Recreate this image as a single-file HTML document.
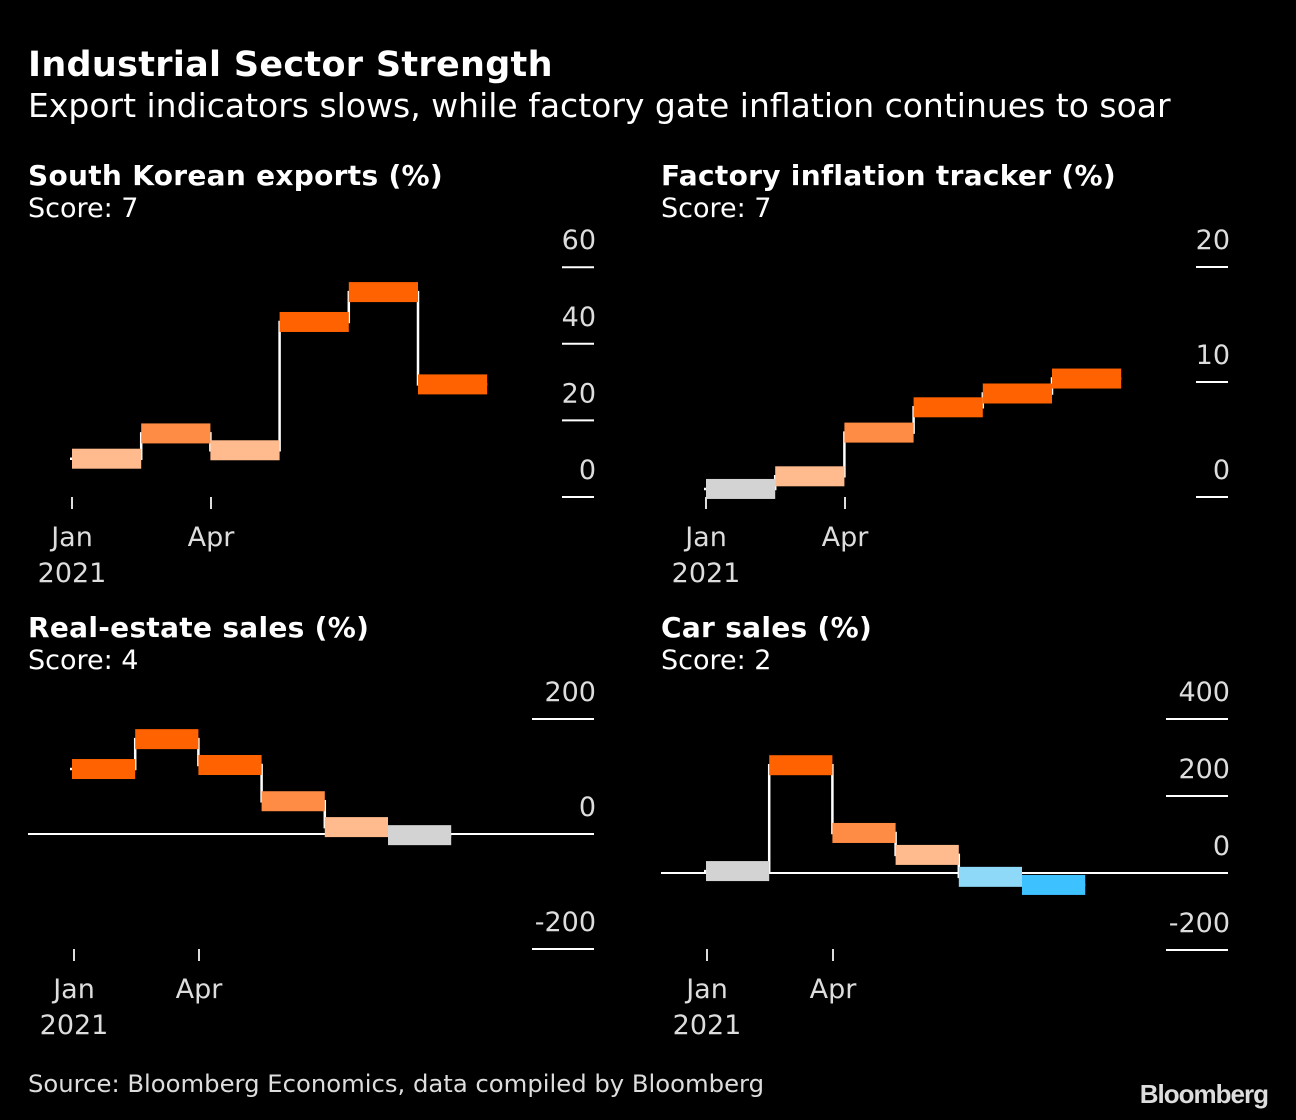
<!DOCTYPE html>
<html><head><meta charset="utf-8"><style>
html,body{margin:0;padding:0;background:#000;width:1296px;height:1120px;overflow:hidden}
svg{display:block}
text{font-family:"DejaVu Sans","Liberation Sans",sans-serif;fill:#fff}
</style></head><body>
<svg id="c" width="1296" height="1120" xmlns="http://www.w3.org/2000/svg">
<text x="28" y="76" font-size="35" font-weight="bold" letter-spacing="0.3">Industrial Sector Strength</text>
<text x="28" y="117" font-size="33">Export indicators slows, while factory gate inflation continues to soar</text>
<text x="28" y="1092" font-size="24.3" style="fill:#ddd">Source: Bloomberg Economics, data compiled by Bloomberg</text>
<text x="1268" y="1103" font-size="26" font-weight="bold" text-anchor="end" style="fill:#ddd;font-family:'Liberation Sans',sans-serif;letter-spacing:-1px">Bloomberg</text>
</svg>
<script>
const months=["Jan","Feb","Mar","Apr","May","Jun"];
const exportsVals=[10,16.6,12.2,45.7,53.5,29.4];
const exportsColors=["#FFBB8D","#FF8C45","#FFBB8D","#FF6200","#FF6200","#FF6200"];
const inflationVals=[0.7,1.8,5.6,7.8,9.0,10.3];
const inflationColors=["#D3D3D3","#FFBB8D","#FF8C45","#FF6200","#FF6200","#FF6200"];
const estateVals=[113,165,120,57,12,-2];
const estateColors=["#FF6200","#FF6200","#FF6200","#FF8C45","#FFBB8D","#D3D3D3"];
const carVals=[5,280,104,47,-10,-31];
const carColors=["#D3D3D3","#FF6200","#FF8C45","#FFBB8D","#8ED8F8","#3EC1FF"];
const exportsTicks=[0,20,40,60];
const inflationTicks=[0,10,20];
const estateTicks=[-200,0,200];
const carTicks=[-200,0,200,400];
const svg=document.getElementById('c');
const NS="http://www.w3.org/2000/svg";
function mk(tag,attrs,txt){const e=document.createElementNS(NS,tag);for(const k in attrs)e.setAttribute(k,attrs[k]);if(txt!==undefined)e.textContent=txt;svg.appendChild(e);return e;}
function panel(p){
  const t=mk('text',{x:p.x0,y:p.ty,'font-size':28,'font-weight':'bold','letter-spacing':0.3},p.title);
  
  
  const s=mk('text',{x:p.x0,y:p.ty+32,'font-size':27},p.score);
  
  
  const y=v=>p.yZero-(v-0)*p.pxPer;
  p.ticks.forEach(v=>{
    const l=mk('line',{x1:p.right-p.tw,x2:p.right,y1:y(v),y2:y(v),stroke:'#fff','stroke-width':2});
    
    
    const tx=mk('text',{x:p.right+2,y:y(v)-18,'font-size':27,'text-anchor':'end',style:'fill:#ddd'},String(v));
    
    
  });
  if(p.zeroLine){const z=mk('line',{x1:p.x0,x2:p.right,y1:y(0),y2:y(0),stroke:'#fff','stroke-width':2});
    
    }
  const xb=i=>p.barX0+i*p.bw;
  let d='M'+(xb(0)-2)+','+y(p.vals[0]);
  p.vals.forEach((v,i)=>{ if(i>0)d+=' L'+xb(i)+','+y(p.vals[i-1])+' L'+xb(i)+','+y(v); });
  d+=' L'+xb(p.vals.length)+','+y(p.vals[p.vals.length-1]);
  const ln=mk('path',{d:d,stroke:'#fff','stroke-width':2.5,fill:'none'});
  
  
  p.vals.forEach((v,i)=>{
    const r=mk('rect',{x:xb(i),y:y(v)-10,width:p.bw,height:20,fill:p.colors[i]});
    
    
  });
  [[p.jan,'Jan'],[p.apr,'Apr']].forEach(([x,lab])=>{
    const tk=mk('line',{x1:x,x2:x,y1:p.xTickY,y2:p.xTickY+12,stroke:'#ddd','stroke-width':2});
    
    
    const tl=mk('text',{x:x,y:p.xTickY+49,'font-size':27,'text-anchor':'middle',style:'fill:#ddd'},lab);
    
    
  });
  const yr=mk('text',{x:p.jan,y:p.xTickY+85,'font-size':27,'text-anchor':'middle',style:'fill:#ddd'},'2021');
  
  
}
panel({x0:28,ty:185,title:'South Korean exports (%)',score:'Score: 7',right:594,tw:32,yZero:497,pxPer:3.83,ticks:exportsTicks,vals:exportsVals,colors:exportsColors,barX0:72,bw:69.2,jan:72,apr:211,xTickY:497});
panel({x0:661,ty:185,title:'Factory inflation tracker (%)',score:'Score: 7',right:1228,tw:32,yZero:497,pxPer:11.5,ticks:inflationTicks,vals:inflationVals,colors:inflationColors,barX0:706,bw:69.2,jan:706,apr:845,xTickY:497});
panel({x0:28,ty:637,title:'Real-estate sales (%)',score:'Score: 4',right:594,tw:62,yZero:834,pxPer:0.575,ticks:estateTicks,vals:estateVals,colors:estateColors,barX0:72,bw:63.2,jan:74,apr:199,xTickY:949,zeroLine:true});
panel({x0:661,ty:637,title:'Car sales (%)',score:'Score: 2',right:1228,tw:62,yZero:873,pxPer:0.385,ticks:carTicks,vals:carVals,colors:carColors,barX0:706,bw:63.2,jan:707,apr:833,xTickY:949,zeroLine:true});
</script>
</body></html>
